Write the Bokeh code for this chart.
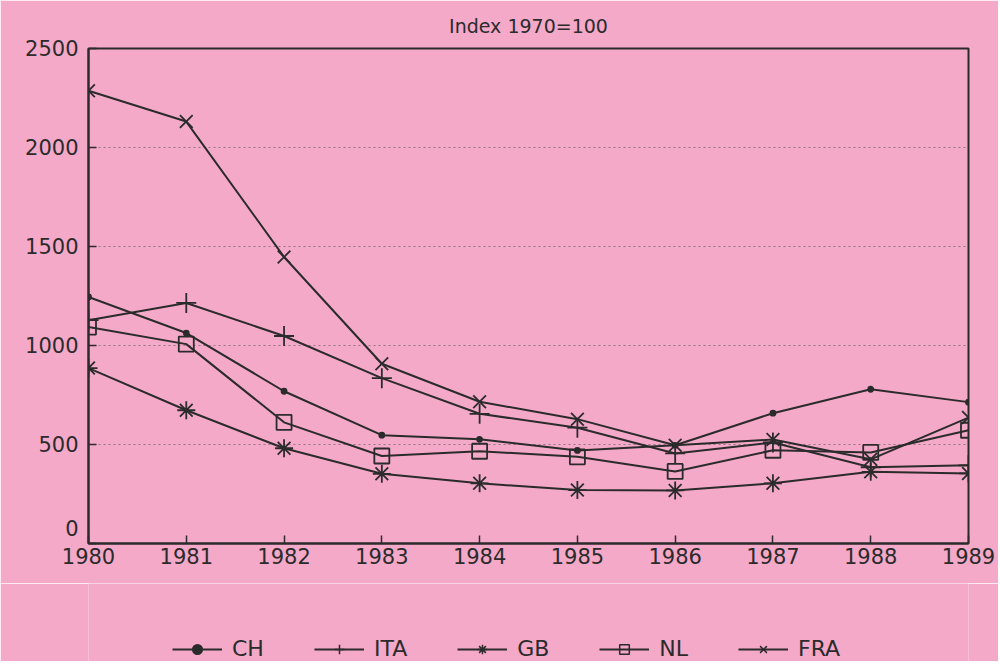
from bokeh.plotting import figure
from bokeh.layouts import column
from bokeh.models import Legend, LegendItem, FixedTicker, Range1d
from bokeh.embed import file_html
from bokeh.resources import INLINE

# ---- data (index 1970 = 100) ----
years = [1980, 1981, 1982, 1983, 1984, 1985, 1986, 1987, 1988, 1989]
ch  = [1245, 1063, 769, 547, 526, 470, 496, 658, 779, 714]
ita = [1128, 1215, 1048, 835, 655, 585, 455, 510, 385, 395]
gb  = [886, 673, 481, 352, 304, 270, 268, 304, 362, 354]
nl  = [1093, 1007, 612, 442, 466, 438, 364, 471, 460, 572]
fra = [2287, 2131, 1447, 908, 716, 628, 496, 525, 425, 636]
series_names = ["CH", "ITA", "GB", "NL", "FRA"]
y_ticks = [0, 500, 1000, 1500, 2000, 2500]
title_text = "Index 1970=100"

PINK = "#F4A9C9"
INK = "#2b2b2b"
FONT = "DejaVu Sans"

p = figure(width=998, height=583, output_backend="svg", toolbar_location=None,
           x_range=Range1d(years[0], years[-1]), y_range=Range1d(y_ticks[0], y_ticks[-1]),
           min_border_left=88, min_border_right=30, min_border_top=48, min_border_bottom=40)
p.background_fill_color = PINK
p.border_fill_color = PINK
p.outline_line_color = INK
p.outline_line_width = 2

# title
p.title.text = title_text
p.title.align = "center"
p.title.text_font = FONT
p.title.text_font_size = "19px"
p.title.text_font_style = "normal"
p.title.text_color = INK
p.title.standoff = 24

# axes
for ax in (p.xaxis[0], p.yaxis[0]):
    ax.axis_line_color = INK
    ax.axis_line_width = 2
    ax.major_tick_in = 8
    ax.major_tick_out = 0
    ax.major_tick_line_color = INK
    ax.major_tick_line_width = 1.5
    ax.minor_tick_line_color = None
    ax.major_label_text_font = FONT
    ax.major_label_text_font_size = "21px"
    ax.major_label_text_color = INK
    ax.major_label_standoff = 4

p.xaxis[0].ticker = FixedTicker(ticks=years)
p.yaxis[0].ticker = FixedTicker(ticks=y_ticks)
p.yaxis[0].major_label_overrides = {0: "0\n "}
p.yaxis[0].major_label_standoff = 10

# grid
p.xgrid.grid_line_color = None
p.ygrid.ticker = FixedTicker(ticks=y_ticks[1:-1])
p.ygrid.grid_line_color = "#555555"
p.ygrid.grid_line_alpha = 0.6
p.ygrid.grid_line_dash = "2 3"
p.ygrid.grid_line_width = 1

styles = {
    "CH":  dict(marker="circle", size=5, fill=True),
    "ITA": dict(marker="cross", size=20, fill=False),
    "GB":  dict(marker="asterisk", size=18, fill=False),
    "NL":  dict(marker="square", size=15, fill=False),
    "FRA": dict(marker="x", size=18, fill=False),
}
data = {"CH": ch, "ITA": ita, "GB": gb, "NL": nl, "FRA": fra}

for name in series_names:
    st = styles[name]
    p.line(years, data[name], line_color=INK, line_width=2)
    p.scatter(years, data[name], marker=st["marker"], size=st["size"],
              line_color=INK, line_width=1.8,
              fill_color=INK if st["fill"] else None)

# legend strip below the chart (a figure of its own so it is not clipped);
# its renderers use the same data, which lies outside this strip's ranges,
# so only the legend glyphs are visible.
leg = figure(width=998, height=78, output_backend="svg", toolbar_location=None,
             x_axis_type=None, y_axis_type=None,
             min_border_left=88, min_border_right=30, min_border_top=0, min_border_bottom=0,
             x_range=Range1d(0, 1), y_range=Range1d(0, 1))
leg.background_fill_color = PINK
leg.border_fill_color = PINK
leg.outline_line_color = None
leg.grid.grid_line_color = None

legend_sizes = {"CH": 4, "ITA": 14, "GB": 10, "NL": 9, "FRA": 10}
items = []
for name in series_names:
    st = styles[name]
    ln = leg.line(years, data[name], line_color=INK, line_width=2)
    sc = leg.scatter(years, data[name], marker=st["marker"], size=legend_sizes[name],
                     line_color=INK, line_width=1.5,
                     fill_color=INK if st["fill"] else None)
    items.append(LegendItem(label=name, renderers=[ln, sc]))

legend = Legend(items=items, orientation="horizontal", location=(84, 0),
                glyph_width=50, glyph_height=24, label_standoff=10, spacing=50,
                padding=0, margin=0, label_text_font=FONT, label_text_font_size="22px",
                label_text_color=INK, background_fill_alpha=0, border_line_alpha=0)
leg.add_layout(legend)

layout = column(p, leg, spacing=0)
open("out.html", "w").write(file_html(layout, INLINE))
